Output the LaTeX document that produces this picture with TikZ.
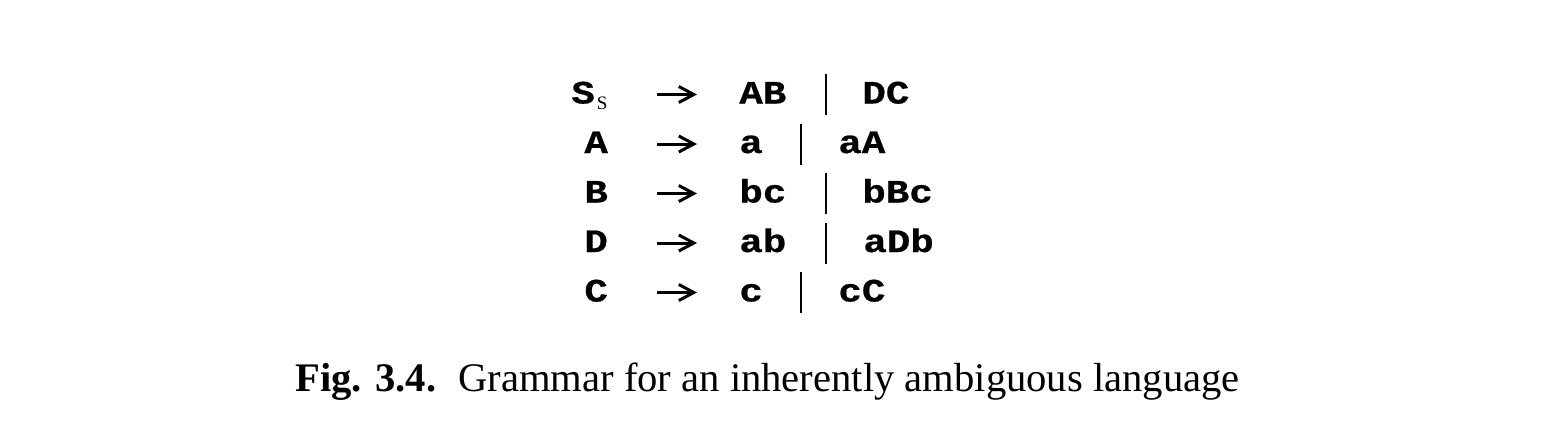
\documentclass[tikz,border=0pt]{standalone}
\usepackage{fontspec}
\setmainfont{Liberation Serif}
\newfontfamily\gmono[FakeStretch=1.2,BoldFeatures={FakeBold=0.6}]{Liberation Mono}
\usetikzlibrary{arrows.meta}
\tikzset{
  sym/.style={font=\gmono\bfseries\fontsize{16.3}{19}\selectfont, inner sep=0pt, anchor=base west},
  subsym/.style={font=\rmfamily\fontsize{9.5}{11}\selectfont, inner sep=0pt, anchor=base west},
  prodarrow/.style={line width=1.5pt, -{Straight Barb[length=7.5pt,width=8pt,line width=1.5pt]}},
  altbar/.style={line width=1.25pt},
  captxt/.style={font=\fontsize{20.3}{24}\selectfont, inner sep=0pt, anchor=base west},
}
\begin{document}
\begin{tikzpicture}[x=0.5pt,y=-0.5pt]
\useasboundingbox (0,0) rectangle (1544,440);
% row 1
\node[sym] (l1) at (571,103.5) {S};
\node[subsym] (l1s) at (596.5,109.5) {S};
\coordinate (a1s) at (657,94.5); \coordinate (a1e) at (697,94.5);
\draw[prodarrow] (a1s) -- (a1e);
\node[sym] (r1a) at (739,103.5) {AB};
\coordinate (b1t) at (826,74); \coordinate (b1b) at (826,115);
\draw[altbar] (b1t) -- (b1b);
\node[sym] (r1b) at (862,103.5) {DC};
% row 2
\node[sym] (l2) at (584,153) {A};
\coordinate (a2s) at (657,144); \coordinate (a2e) at (697,144);
\draw[prodarrow] (a2s) -- (a2e);
\node[sym] (r2a) at (739,153) {a};
\coordinate (b2t) at (801,123.5); \coordinate (b2b) at (801,164.5);
\draw[altbar] (b2t) -- (b2b);
\node[sym] (r2b) at (838,153) {aA};
% row 3
\node[sym] (l3) at (584,202.5) {B};
\coordinate (a3s) at (657,193.5); \coordinate (a3e) at (697,193.5);
\draw[prodarrow] (a3s) -- (a3e);
\node[sym] (r3a) at (739,202.5) {bc};
\coordinate (b3t) at (826,173); \coordinate (b3b) at (826,214);
\draw[altbar] (b3t) -- (b3b);
\node[sym] (r3b) at (862,202.5) {bBc};
% row 4
\node[sym] (l4) at (584,252) {D};
\coordinate (a4s) at (657,243); \coordinate (a4e) at (697,243);
\draw[prodarrow] (a4s) -- (a4e);
\node[sym] (r4a) at (739,252) {ab};
\coordinate (b4t) at (826,222.5); \coordinate (b4b) at (826,263.5);
\draw[altbar] (b4t) -- (b4b);
\node[sym] (r4b) at (863,252) {aDb};
% row 5
\node[sym] (l5) at (584,301.5) {C};
\coordinate (a5s) at (657,292.5); \coordinate (a5e) at (697,292.5);
\draw[prodarrow] (a5s) -- (a5e);
\node[sym] (r5a) at (739,301.5) {c};
\coordinate (b5t) at (801,272); \coordinate (b5b) at (801,313);
\draw[altbar] (b5t) -- (b5b);
\node[sym] (r5b) at (838,301.5) {cC};
% caption
\node[captxt] (cap) at (295,391) {\textbf{Fig. 3.4.}\hspace{11pt}Grammar for an inherently ambiguous language};
\end{tikzpicture}
\end{document}
